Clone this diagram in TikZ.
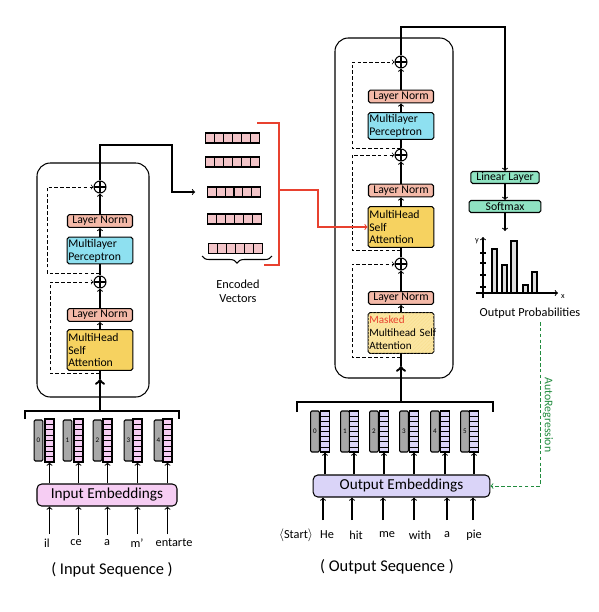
\documentclass[tikz,border=0pt]{standalone}
\usepackage{fontspec}
\setmainfont{Carlito}
\usetikzlibrary{calc,patterns,decorations.pathreplacing}

\definecolor{normfill}{HTML}{F4B9A8}
\definecolor{mlpfill}{HTML}{8EE0F0}
\definecolor{attnfill}{HTML}{F6D260}
\definecolor{maskfill}{HTML}{FBE6A2}
\definecolor{headfill}{HTML}{8FE3C2}
\definecolor{vecfill}{HTML}{F2C4C8}
\definecolor{inpink}{HTML}{F6CDF3}
\definecolor{outpurple}{HTML}{DAD4F8}
\definecolor{bargrey}{HTML}{A8A8A8}
\definecolor{redline}{HTML}{E8412F}
\definecolor{autogreen}{HTML}{218B3E}

\tikzset{
  box/.style={draw, rounded corners=1.5pt, inner sep=1pt, font=\fontsize{10}{11}\selectfont},
  norm/.style={box, fill=normfill, minimum width=1.95cm, minimum height=0.38cm, inner sep=0.5pt},
  mlp/.style={box, fill=mlpfill, minimum width=1.95cm, minimum height=0.8cm, text width=1.9cm, align=left},
  attn/.style={box, fill=attnfill, minimum width=1.97cm, minimum height=1.22cm, text width=1.9cm, align=left},
  head/.style={box, fill=headfill, minimum width=2.05cm, minimum height=0.36cm, inner sep=0.5pt, font=\fontsize{10}{11}\selectfont},
  addop/.style={circle, draw, fill=white, minimum size=0.36cm, inner sep=0pt,
    path picture={\draw (path picture bounding box.north) -- (path picture bounding box.south)
      (path picture bounding box.west) -- (path picture bounding box.east);}},
  block/.style={draw, fill=white, rounded corners=0.4cm},
  res/.style={densely dashed, ->, line width=0.6pt},
  feed/.style={->, line width=2pt},
  vecrow/.style={draw, fill=vecfill, minimum width=1.6cm, minimum height=0.3cm, inner sep=0pt,
    path picture={\foreach \k in {1,...,5}{\draw ($(path picture bounding box.south west)!\k/6!(path picture bounding box.south east)$)
      -- ($(path picture bounding box.north west)!\k/6!(path picture bounding box.north east)$);}}},
  posbar/.style={draw, fill=bargrey, rounded corners=1pt, minimum width=0.26cm, minimum height=1.23cm, inner sep=0pt,
    font=\fontsize{6}{6}\selectfont},
  embbar/.style={draw, minimum width=0.27cm, minimum height=1.29cm, inner sep=0pt,
    path picture={\foreach \k in {1,...,7}{\draw[line width=0.6pt] ($(path picture bounding box.south west)!\k/8!(path picture bounding box.north west)$)
      -- ($(path picture bounding box.south east)!\k/8!(path picture bounding box.north east)$);}}},
  emb/.style={draw, rounded corners=4pt, minimum height=0.66cm, font=\fontsize{13}{14}\selectfont},
  word/.style={font=\fontsize{10.5}{12}\selectfont, inner sep=1pt},
  seq/.style={font=\fontsize{14}{16}\selectfont},
  autoreg/.style={densely dashed, draw=autogreen, line width=0.8pt}
}

\begin{document}
\begin{tikzpicture}[x=0.03cm, y=-0.03cm, line width=0.9pt]
\useasboundingbox (0,0) rectangle (599,612);

% encoder
\node[block, minimum width=3.36cm, minimum height=7.02cm] (encoder) at (93,280) {};
\node[attn] (encattn) at (100,350) {MultiHead\\Self\\Attention};
\node[norm] (encnorm1) at (100,315) {Layer Norm};
\node[addop] (encadd1) at (100,282) {};
\node[mlp] (encmlp) at (100,250.5) {Multilayer\\Perceptron};
\node[norm] (encnorm2) at (100,221) {Layer Norm};
\node[addop] (encadd2) at (100,187) {};
\draw[->] (encattn) -- (encnorm1);
\draw[->] (encnorm1) -- (encadd1);
\draw (encadd1) -- (encmlp);
\draw[->] (encmlp) -- (encnorm2);
\draw[->] (encnorm2) -- (encadd2);
\coordinate (encin) at (100,379);
\coordinate (enctap1) at (100,373);
\coordinate (enctap2) at (100,273);
\draw[res] (enctap1) -- (50,373) |- (encadd1);
\draw[res] (enctap2) -- (47,273) |- (encadd2);
\draw (encin) -- (encattn);
\coordinate (encfork) at (100,411);
\draw[feed] (encfork) -- (encin);
\draw (25,419) -- (25,411) -- (179,411) -- (179,419);

% input side
\node[emb, fill=inpink, minimum width=4.2cm] (inemb) at (107,495) {Input Embeddings};
\foreach \i/\gx/\px/\w/\wx in {0/38.5/49.5/il/47, 1/67.5/78.5/ce/76, 2/97.5/107.5/a/107, 3/128.5/137.5/m'/137, 4/158.5/167.5/entarte/174} {
  \node[posbar] (ing\i) at (\gx,440.5) {\i};
  \node[embbar, fill=inpink] (inp\i) at (\px,440.5) {};
  \node[word] (inw\i) at (\wx,543) {\w};
  \draw[->] (inemb.north -| inp\i) -- (inp\i);
  \draw[->] (inp\i |- inw\i.north) ++(0,-3) -- (inp\i |- inemb.south);
}
\node[seq] (inseq) at (112,570) {( Input Sequence )};

% encoded vectors
\foreach \n/\vx/\vy in {1/232.5/138, 2/232.5/162, 3/234/192, 4/234.5/219, 5/235.5/248.5}
  \node[vecrow] (vec\n) at (\vx,\vy) {};
\draw[->, shorten >=0.35cm] (encadd2) |- (172,145) |- (vec3);
\draw[decorate, decoration={brace, mirror, amplitude=6pt}] (202,256) -- (272,256);
\node[word, align=center] (enclab) at (238,291) {Encoded\\Vectors};
\draw[redline] (257,123) -- (279,123) -- (279,265) -- (264,265);
\coordinate (redmid) at (279,190);

% decoder
\node[block, minimum width=3.54cm, minimum height=10.2cm] (decoder) at (394,208) {};
\node[attn, fill=maskfill, font=\fontsize{9.5}{11}\selectfont, postaction={pattern=north east lines, pattern color=attnfill!70}] (decmask) at (401,333) {\textcolor{redline}{Masked}\\\mbox{Multihead Self}\\Attention};
\node[norm] (decnorm1) at (401,298) {Layer Norm};
\node[addop] (decadd1) at (401,264) {};
\node[attn] (decattn) at (401,227) {MultiHead\\Self\\Attention};
\node[norm] (decnorm2) at (401,190.5) {Layer Norm};
\node[addop] (decadd2) at (401,155) {};
\node[mlp] (decmlp) at (401,126) {Multilayer\\Perceptron};
\node[norm] (decnorm3) at (401,96.5) {Layer Norm};
\node[addop] (decadd3) at (401,62) {};
\draw[->] (decmask) -- (decnorm1);
\draw[->] (decnorm1) -- (decadd1);
\draw (decadd1) -- (decattn);
\draw[->] (decattn) -- (decnorm2);
\draw[->] (decnorm2) -- (decadd2);
\draw (decadd2) -- (decmlp);
\draw[->] (decmlp) -- (decnorm3);
\draw[->] (decnorm3) -- (decadd3);
\coordinate (decin) at (401,366);
\coordinate (dectap1) at (401,357);
\coordinate (dectap2) at (401,250);
\coordinate (dectap3) at (401,148);
\draw[res] (dectap1) -- (352,357) |- (decadd1);
\draw[res] (dectap2) -- (352,250) |- (decadd2);
\draw[res] (dectap3) -- (352,148) |- (decadd3);
\draw (decin) -- (decmask);
\coordinate (decfork) at (401,402);
\draw[feed] (decfork) -- (decin);
\draw (297,412) -- (297,402) -- (493,402) -- (493,412);
\draw[redline, ->] (redmid) -- (318,190) |- (decattn);

% output side
\node[emb, fill=outpurple, minimum width=5.3cm] (outemb) at (401.5,486) {Output Embeddings};
\foreach \i/\gx/\px in {0/315/325, 1/345/354, 2/374/384, 3/404/414, 4/435/445, 5/465/474} {
  \node[posbar] (outg\i) at (\gx,431.5) {\i};
  \node[embbar, fill=outpurple, minimum height=1.23cm] (outp\i) at (\px,431.5) {};
  \draw[->] (outemb.north -| outp\i) -- (outp\i);
}
\node[word] (outw0) at (296,535) {$\langle$Start$\rangle$};
\foreach \i/\w/\wx in {1/He/327, 2/hit/356, 3/me/387, 4/with/420, 5/a/447, 6/pie/474} {
  \node[word] (outw\i) at (\wx,535) {\w};
}
\foreach \i/\ax in {1/323, 2/352, 3/383, 4/414, 5/447, 6/473}
  \draw[->] (\ax,520) -- (\ax,0 |- outemb.south);
\node[seq] (outseq) at (387,567) {( Output Sequence )};

% head and probabilities
\node[head] (linear) at (505,177.5) {Linear Layer};
\node[head, minimum width=2.15cm] (softmax) at (505,206.5) {Softmax};
\draw[->] (decadd3) |- (505,27) -- (linear);
\draw[->] (linear) -- (softmax);
\coordinate (probtop) at (505,231);
\draw[->] (softmax) -- (probtop);
\draw[->] (483,298) -- (483,237);
\draw[->] (476,293) -- (558,293);
\node[font=\scriptsize] (ylab) at (477,241) {y};
\node[font=\scriptsize] (xlab) at (563,297) {x};
\foreach \t in {253,263,275,287} \draw (480,\t) -- (486,\t);
\foreach \a/\b/\t in {492/497/249, 502/507/265, 511/517/241, 523/528/285, 532/537/272}
  \draw[fill=gray!25] (\a,293) rectangle (\b,\t);
\node[word] (problab) at (530,313) {Output Probabilities};
\coordinate (argstart) at (540,322);
\draw[autoreg, ->] (argstart) |- (outemb.east);
\node[rotate=-90, text=autogreen, font=\fontsize{10}{11}\selectfont] (arlabel) at (548,415) {AutoRegression};
\end{tikzpicture}
\end{document}
